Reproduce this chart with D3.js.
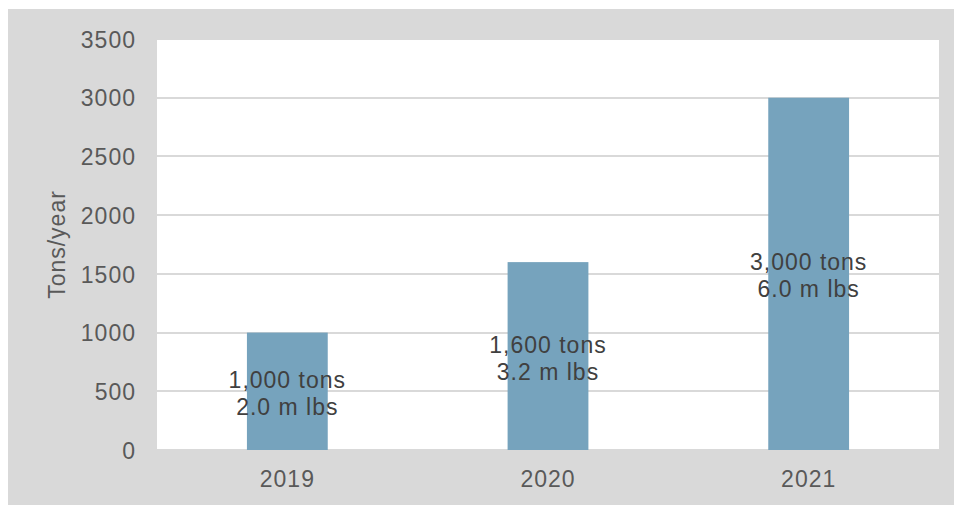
<!DOCTYPE html>
<html lang="en">
<head>
  <meta charset="UTF-8">
  <title>Tons/year</title>
  <script src="https://d3js.org/d3.v7.min.js"></script>
  <style>
  body {
  margin: 0;
  background: #fff;
}

text {
  font-family: "Liberation Sans", Arial, sans-serif;
  letter-spacing: 1px;
}

.axis path,
.axis line {
  display: none;
}

.axis text {
  fill: #595959;
  font-size: 23px;
}

.grid line {
  stroke: #d9d9d9;
  stroke-width: 2px;
  shape-rendering: crispEdges;
}

.label {
  fill: #404040;
  font-size: 23px;
}
  </style>
</head>
<body>
  <div class="container"></div>
  <script>
  var years = ["2019", "2020", "2021"];
  var tons = [1000, 1600, 3000];
  var labelTons = ["1,000 tons", "1,600 tons", "3,000 tons"];
  var labelLbs = ["2.0 m lbs", "3.2 m lbs", "6.0 m lbs"];
  var yTicks = [0, 500, 1000, 1500, 2000, 2500, 3000, 3500];

  var w = 954, h = 505,
      margin = {top: 39, right: 15, bottom: 55, left: 157};
  var g_w = w - margin.left - margin.right;
  var g_h = h - margin.top - margin.bottom;

  var xScale = d3.scaleBand()
                 .domain(years)
                 .range([0, g_w])
                 .paddingInner(0.69)
                 .paddingOuter(0.345);
  var yScale = d3.scaleLinear()
                 .domain([0, 3500])
                 .range([g_h, 0]);

  var svg = d3.select('.container')
          .append('svg')
          .attr("width", w)
          .attr("height", h);

  // gray panel behind everything
  svg.append('rect')
     .attr('x', 8).attr('y', 9)
     .attr('width', w - 8).attr('height', h - 9)
     .attr('fill', '#d9d9d9');

  var g = svg.append('g')
          .attr('transform', 'translate(' + margin.left + ',' + margin.top + ')');

  g.append('rect')
   .attr('width', g_w).attr('height', g_h)
   .attr('fill', '#fff');

  // horizontal gridlines
  g.append('g').attr('class', 'grid')
   .selectAll('line')
   .data(yTicks)
   .enter().append('line')
   .attr('x1', 0).attr('x2', g_w)
   .attr('y1', function(d){ return Math.round(yScale(d)); })
   .attr('y2', function(d){ return Math.round(yScale(d)); });

  g.selectAll('.bar')
   .data(tons)
   .enter().append('rect')
   .attr('class', 'bar')
   .attr('x', function(d, i){ return xScale(years[i]); })
   .attr('y', function(d){ return yScale(d); })
   .attr('width', xScale.bandwidth())
   .attr('height', function(d){ return g_h - yScale(d); })
   .attr('fill', '#76a3bd');

  var yAxis = d3.axisLeft(yScale).tickValues(yTicks).tickFormat(d3.format('d')).tickSize(0).tickPadding(21);
  g.append('g').attr('class', 'y axis').call(yAxis)
   .selectAll('text').attr('dy', '0.36em');

  var xAxis = d3.axisBottom(xScale).tickSize(0).tickPadding(21);
  g.append('g').attr('class', 'x axis')
   .attr('transform', 'translate(0,' + g_h + ')')
   .call(xAxis);

  // data labels, two lines centred in each bar
  var labels = g.selectAll('.label')
   .data(tons)
   .enter().append('text')
   .attr('class', 'label')
   .attr('text-anchor', 'middle')
   .attr('x', function(d, i){ return xScale(years[i]) + xScale.bandwidth() / 2; })
   .attr('y', function(d){ return (yScale(d) + g_h) / 2; });
  labels.append('tspan')
   .attr('x', function(d, i){ return xScale(years[i]) + xScale.bandwidth() / 2; })
   .attr('dy', '-0.15em')
   .text(function(d, i){ return labelTons[i]; });
  labels.append('tspan')
   .attr('x', function(d, i){ return xScale(years[i]) + xScale.bandwidth() / 2; })
   .attr('dy', '1.17em')
   .text(function(d, i){ return labelLbs[i]; });

  svg.append('text')
     .text('Tons/year')
     .attr('transform', 'translate(65,' + (margin.top + g_h / 2) + ') rotate(-90)')
     .attr('text-anchor', 'middle')
     .attr('fill', '#595959')
     .style('font-size', '23px');
  </script>
</body>
</html>
